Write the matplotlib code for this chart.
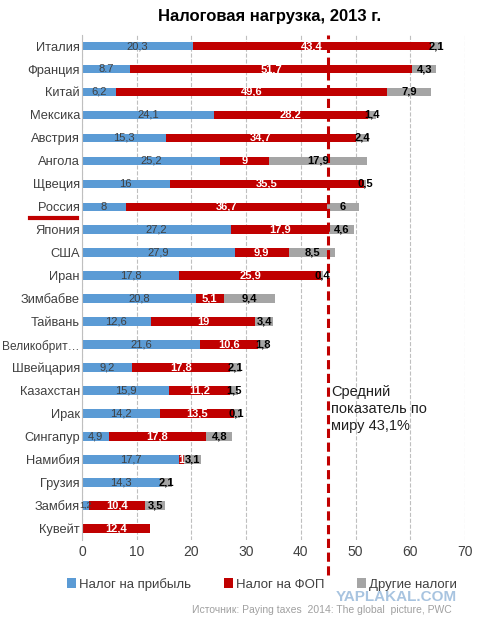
import matplotlib.pyplot as plt
import numpy as np
plt.rcParams['font.family'] = ['Liberation Sans', 'DejaVu Sans']

countries = ["Италия","Франция","Китай","Мексика","Австрия","Ангола","Щвеция","Россия","Япония","США","Иран","Зимбабве","Тайвань","Великобрит…","Швейцария","Казахстан","Ирак","Сингапур","Намибия","Грузия","Замбия","Кувейт"]
profit = [20.3,8.7,6.2,24.1,15.3,25.2,16,8,27.2,27.9,17.8,20.8,12.6,21.6,9.2,15.9,14.2,4.9,17.7,14.3,1.2,0]
payroll = [43.4,51.7,49.6,28.2,34.7,9,35.5,36.7,17.9,9.9,25.9,5.1,19,10.6,17.8,11.2,13.5,17.8,1,0,10.4,12.4]
other = [2.1,4.3,7.9,1.4,2.4,17.9,0.5,6,4.6,8.5,0.4,9.4,3.4,1.8,2.1,1.5,1.1,4.8,3.1,2.1,3.5,0]
plab = ["20,3","8.7","6,2","24,1","15,3","25,2","16","8","27,2","27,9","17,8","20,8","12,6","21,6","9,2","15,9","14,2","4,9","17,7","14,3","1,2",""]
flab = ["43,4","51,7","49,6","28,2","34,7","9","35,5","36,7","17,9","9,9","25,9","5,1","19","10,6","17,8","11,2","13,5","17,8","1","","10,4","12,4"]
olab = ["2,1","4,3","7,9","1,4","2,4","17,9","0,5","6","4,6","8,5","0,4","9,4","3,4","1,8","2,1","1,5","0,1","4,8","3,1","2,1","3,5",""]
avg = 45

blue, red, gray = "#5b9bd5", "#c00000", "#a5a5a5"
fig = plt.figure(figsize=(4.91,6.28), dpi=100)
ax = fig.add_axes([0.167,0.14,0.78,0.805])
y = np.arange(len(countries))
p = np.array(profit); f = np.array(payroll); o = np.array(other)
h = 0.38
ax.barh(y, p, height=h, color=blue, label="Налог на прибыль")
ax.barh(y, f, left=p, height=h, color=red, label="Налог на ФОП")
ax.barh(y, o, left=p+f, height=h, color=gray, label="Другие налоги")
for i in y:
    if plab[i]: ax.text(p[i]/2, i, plab[i], ha="center", va="center", fontsize=8 if p[i] > 3 else 6.5, color="#404040")
    if flab[i]: ax.text(p[i]+f[i]/2, i, flab[i], ha="center", va="center", fontsize=8, color="white", fontweight="bold")
    if olab[i]: ax.text(p[i]+f[i]+o[i]/2, i, olab[i], ha="center", va="center", fontsize=8, color="black", fontweight="bold")
ax.set_ylim(len(countries)-0.5, -0.5)
ax.set_xlim(0,70)
ax.set_xticks(range(0,71,10))
ax.set_yticks(y)
ax.set_yticklabels(countries, color="#404040")
ax.tick_params(length=0, labelsize=10, colors="#404040")
ax.tick_params(axis="y", labelsize=9.3, pad=1.5)
ax.get_yticklabels()[13].set_fontsize(8.6)
ax.grid(axis="x", linestyle="--", color="#bfbfbf", linewidth=0.8)
ax.set_axisbelow(True)
for s in ["top","right","bottom"]: ax.spines[s].set_visible(False)
ax.spines["left"].set_color("#bfbfbf")
ax.axvline(avg, ymin=-0.07, ymax=1.0, color=red, linestyle="--", linewidth=2.2, clip_on=False, dashes=(3,1.5))
ax.text(avg+0.6, 15.8, "Средний\nпоказатель по\nмиру 43,1%", fontsize=10.5, va="center", ha="left", color="#202020", linespacing=1.3)
ax.plot([-9.5,-1], [7.5,7.5], color=red, linewidth=3, clip_on=False)
fig.suptitle("Налоговая нагрузка, 2013 г.", x=0.55, y=0.985, fontsize=12, fontweight="bold")
ax.legend(loc="center", bbox_to_anchor=(0.47,-0.087), ncol=3, frameon=False, fontsize=9.5, handlelength=0.7, handleheight=0.7, columnspacing=2.5, handletextpad=0.2, labelcolor="#404040")
fig.text(0.93, 0.05, "YAPLAKAL.COM", ha="right", va="center", fontsize=11, fontweight="bold", color="#a8c4e0")
fig.text(0.92, 0.028, "Источник: Paying taxes  2014: The global  picture, PWC", ha="right", va="center", fontsize=7.5, color="#a0a0a0")
fig.savefig("out.png", dpi=100)
